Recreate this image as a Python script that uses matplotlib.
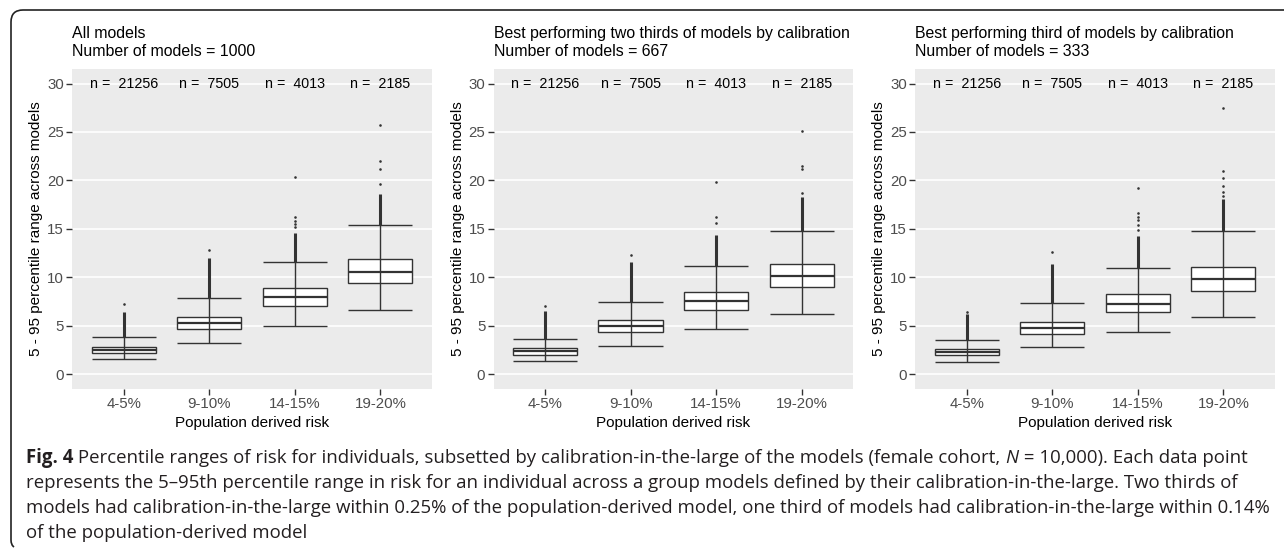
import numpy as np
import matplotlib.pyplot as plt
from matplotlib.path import Path
from matplotlib.patches import PathPatch, Rectangle

plt.rcParams['font.family'] = ['Liberation Sans', 'DejaVu Sans']

categories = ["4-5%", "9-10%", "14-15%", "19-20%"]
n_individuals = [21256, 7505, 4013, 2185]
panel_titles = ["All models",
                "Best performing two thirds of models by calibration",
                "Best performing third of models by calibration"]
n_models = [1000, 667, 333]

# box statistics, one row per panel
whisker_low = [[1.55, 3.2, 4.98, 6.6],
               [1.4, 2.92, 4.64, 6.18],
               [1.27, 2.78, 4.4, 5.94]]
q1 = [[2.23, 4.64, 7.0, 9.38],
      [2.02, 4.36, 6.66, 8.97],
      [1.96, 4.19, 6.39, 8.59]]
median = [[2.5, 5.26, 7.94, 10.58],
          [2.37, 4.98, 7.56, 10.13],
          [2.33, 4.74, 7.25, 9.8]]
q3 = [[2.85, 5.9, 8.87, 11.85],
      [2.68, 5.63, 8.45, 11.34],
      [2.6, 5.42, 8.25, 11.03]]
whisker_high = [[3.8, 7.83, 11.6, 15.36],
                [3.64, 7.45, 11.2, 14.8],
                [3.54, 7.35, 11.0, 14.77]]
# top of the solid run of outlier points just above the upper whisker
dense_top = [[6.39, 11.95, 14.55, 18.6],
             [6.5, 11.6, 14.36, 18.3],
             [6.2, 11.4, 14.3, 18.1]]
# the separate outlier points above that run
outliers = [[[7.25], [12.8], [15.2, 15.5, 15.8, 16.25, 20.35], [19.62, 21.2, 22.0, 25.7]],
            [[7.07], [12.3], [15.6, 16.25, 19.8], [18.7, 21.16, 21.5, 25.15]],
            [[6.45], [12.6], [14.9, 15.4, 15.9, 16.25, 16.6, 19.2], [18.4, 18.8, 19.4, 20.3, 21.0, 27.5]]]

caption_lines = [
    [("Fig. 4", "bold", "normal"),
     (" Percentile ranges of risk for individuals, subsetted by calibration-in-the-large of the models (female cohort, ", "normal", "normal"),
     ("N", "normal", "italic"),
     (" = 10,000). Each data point", "normal", "normal")],
    [("represents the 5\u201395th percentile range in risk for an individual across a group models defined by their calibration-in-the-large. Two thirds of", "normal", "normal")],
    [("models had calibration-in-the-large within 0.25% of the population-derived model, one third of models had calibration-in-the-large within 0.14%", "normal", "normal")],
    [("of the population-derived model", "normal", "normal")],
]

W, H = 1284, 555
fig = plt.figure(figsize=(W / 100, H / 100), dpi=100)

line_col = '#333333'
ax_left = [72.3, 493.6, 915.3]
ax_w, ax_top, ax_bot = 359.4, 69.0, 388.7
x = np.arange(1, len(categories) + 1)
half = 0.375

for p in range(3):
    ax = fig.add_axes([ax_left[p] / W, 1 - ax_bot / H, ax_w / W, (ax_bot - ax_top) / H])
    ax.set_facecolor('#EBEBEB')
    for s in ax.spines.values():
        s.set_visible(False)
    ax.set_xlim(0.4, 4.6)
    ax.set_ylim(-1.5, 31.5)
    ax.set_yticks(range(0, 31, 5))
    ax.set_xticks(x)
    ax.set_xticklabels(categories)
    ax.yaxis.grid(True, color='white', lw=1.2)
    ax.set_axisbelow(True)
    ax.tick_params(length=4, width=1, color=line_col, labelsize=10.8, labelcolor='#4D4D4D', pad=2)

    for i, xi in enumerate(x):
        ax.add_patch(Rectangle((xi - half, q1[p][i]), 2 * half, q3[p][i] - q1[p][i],
                               fc='white', ec=line_col, lw=1.0, zorder=2))
        ax.hlines(median[p][i], xi - half, xi + half, color=line_col, lw=1.6, zorder=3)
        ax.vlines(xi, whisker_low[p][i], whisker_high[p][i], color=line_col, lw=1.0, zorder=3)
        ax.hlines([whisker_low[p][i], whisker_high[p][i]], xi - half, xi + half,
                  color=line_col, lw=1.0, zorder=3)
        ax.vlines(xi, whisker_high[p][i], dense_top[p][i], color=line_col, lw=2.2, zorder=3)
        ax.scatter([xi] * len(outliers[p][i]), outliers[p][i], s=3.5, color=line_col,
                   lw=0, zorder=4)
        ax.text(xi, 30, "n =  %d" % n_individuals[i], ha='center', va='center',
                fontsize=10.3, color='black')

    ax.set_xlabel("Population derived risk", fontsize=11, va='center')
    ax.xaxis.set_label_coords(0.5, -(422.7 - ax_bot) / (ax_bot - ax_top))
    ax.set_ylabel("5 - 95 percentile range across models", fontsize=11, va='center')
    ax.yaxis.set_label_coords(-36 / ax_w, 0.5)

    hh = ax_bot - ax_top
    ax.text(0, (ax_bot - 37.7) / hh, panel_titles[p], transform=ax.transAxes,
            fontsize=11.4, va='baseline')
    ax.text(0, (ax_bot - 56.0) / hh, "Number of models = %d" % n_models[p],
            transform=ax.transAxes, fontsize=11.4, va='baseline')

# rounded frame round the figure (top and left edges only)
pts = [(14, 547), (11, 545), (11, 540), (11, 22), (11, 10), (23, 10), (W, 10)]
codes = [Path.MOVETO, Path.CURVE3, Path.CURVE3, Path.LINETO, Path.CURVE3, Path.CURVE3, Path.LINETO]
frame = Path([(px / W, 1 - py / H) for px, py in pts], codes)
fig.add_artist(PathPatch(frame, fc='none', ec='#222222', lw=1.2, transform=fig.transFigure))

# caption, laid out run by run
renderer = fig.canvas.get_renderer()
baselines = [463.3, 488.2, 513.1, 537.9]
for line, yb in zip(caption_lines, baselines):
    xpos = 26
    for txt, weight, style in line:
        t = fig.text(xpos / W, 1 - yb / H, txt, family=['Open Sans', 'DejaVu Sans'],
                     fontsize=13.4, weight=weight, style=style, color='#231F20', va='baseline')
        xpos = t.get_window_extent(renderer).x1

fig.savefig("out.png", dpi=100)
